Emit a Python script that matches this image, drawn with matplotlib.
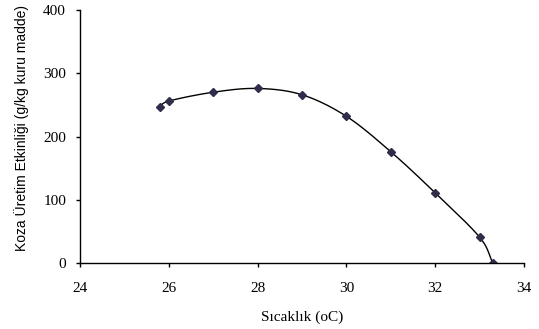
import numpy as np
import matplotlib
matplotlib.use("Agg")
import matplotlib.pyplot as plt

temperature = [25.8, 26, 27, 28, 29, 30, 31, 32, 33, 33.3]
efficiency = [246, 256, 270, 276, 266, 232, 176, 111, 41, 0]
x_ticks = [24, 26, 28, 30, 32, 34]
y_ticks = [0, 100, 200, 300, 400]


def smooth(x, y, n=20):
    # Catmull-Rom style drawing of the line between the data points
    x = np.asarray(x, float)
    y = np.asarray(y, float)
    px = np.concatenate([[2 * x[0] - x[1]], x, [2 * x[-1] - x[-2]]])
    py = np.concatenate([[2 * y[0] - y[1]], y, [2 * y[-1] - y[-2]]])
    xs, ys = [], []
    t = np.linspace(0, 1, n)
    for i in range(1, len(px) - 2):
        p0, p1, p2, p3 = (np.array([px[j], py[j]]) for j in (i - 1, i, i + 1, i + 2))
        c1 = p1 + (p2 - p0) / 6
        c2 = p2 - (p3 - p1) / 6
        b = ((1 - t) ** 3)[:, None] * p1 + (3 * (1 - t) ** 2 * t)[:, None] * c1 \
            + (3 * (1 - t) * t ** 2)[:, None] * c2 + (t ** 3)[:, None] * p2
        xs.extend(b[:, 0])
        ys.extend(b[:, 1])
    return xs, ys


fig = plt.figure(figsize=(5.39, 3.29), dpi=100)
ax = fig.add_axes([0.1484, 0.2006, 0.8236, 0.769])

sx, sy = smooth(temperature, efficiency)
ax.plot(sx, sy, color="black", lw=1.0)
ax.plot(temperature, efficiency, linestyle="none", marker="D", markersize=4,
        color="#2e2e4a", markeredgecolor="#2e2e4a")

ax.set_xlim(24, 34)
ax.set_ylim(0, 400)
ax.set_xticks(x_ticks)
ax.set_yticks(y_ticks)
ax.set_xticklabels([str(v) for v in x_ticks], family="Liberation Serif", fontsize=11)
ax.set_yticklabels([str(v) for v in y_ticks], family="Liberation Serif", fontsize=11)
ax.tick_params(direction="out", length=3, width=1, color="black")
ax.tick_params(axis="x", pad=11)
ax.tick_params(axis="y", pad=7)
for s in ("top", "right"):
    ax.spines[s].set_visible(False)
for s in ("left", "bottom"):
    ax.spines[s].set_linewidth(1)
ax.set_xlabel("Sıcaklık (oC)", family="Liberation Serif", fontsize=11, labelpad=11)
ax.set_ylabel("Koza Üretim Etkinliği (g/kg kuru madde)", family="Liberation Sans",
              fontsize=10, labelpad=10)
ax.yaxis.label.set_y(0.534)

fig.savefig("out.png", dpi=100)
